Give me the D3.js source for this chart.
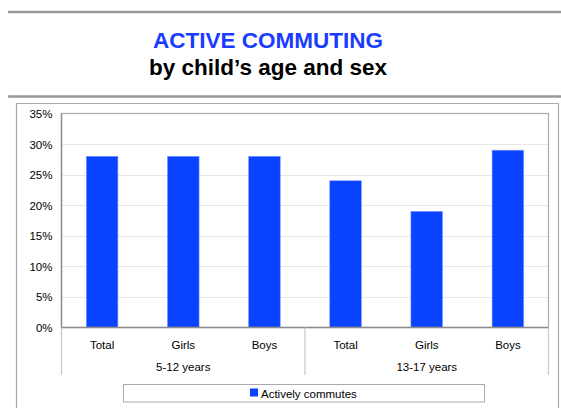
<!DOCTYPE html>
<html>
<head>
<meta charset="utf-8">
<script src="https://cdn.jsdelivr.net/npm/d3@7"></script>
<style>
  html, body { margin: 0; padding: 0; background: #fff; }
  svg { display: block; font-family: "Liberation Sans", Arial, Helvetica, sans-serif; }
</style>
</head>
<body>
<svg id="chart" width="561" height="408"></svg>
<script>
const categories = ["Total", "Girls", "Boys", "Total", "Girls", "Boys"];
const groups = ["5-12 years", "13-17 years"];
const values = [28, 28, 28, 24, 19, 29];
const yTicks = [0, 5, 10, 15, 20, 25, 30, 35];
const seriesName = "Actively commutes";
const titleText = "ACTIVE COMMUTING";
const subtitleText = "by child\u2019s age and sex";

const svg = d3.select("#chart");
const W = 561, H = 408;
const plot = { left: 61.5, right: 548.5, top: 113.5, bottom: 327.5 };
const barBlue = "#0a43ff";

// header rules
svg.append("line").attr("x1", 8).attr("x2", W).attr("y1", 12).attr("y2", 12)
  .attr("stroke", "#999").attr("stroke-width", 2.5);
svg.append("line").attr("x1", 8).attr("x2", W).attr("y1", 96.5).attr("y2", 96.5)
  .attr("stroke", "#999").attr("stroke-width", 2.5);

// titles
svg.append("text").attr("x", 268).attr("y", 48).attr("text-anchor", "middle")
  .attr("font-size", 22.5).attr("font-weight", "bold").attr("fill", "#1a3cff").text(titleText);
svg.append("text").attr("x", 268).attr("y", 75).attr("text-anchor", "middle")
  .attr("font-size", 22.5).attr("font-weight", "bold").attr("fill", "#000").text(subtitleText);

// outer frame
svg.append("path").attr("d", `M16.5,${H} V103.5 H558.5 V${H}`)
  .attr("fill", "none").attr("stroke", "#aaa").attr("stroke-width", 1.2);

const x = d3.scaleBand().domain(d3.range(categories.length))
  .range([plot.left, plot.right]).paddingInner(0.61).paddingOuter(0.305);
const y = d3.scaleLinear().domain([0, 35]).range([plot.bottom, plot.top]);

// gridlines
svg.append("g").selectAll("line").data(yTicks.filter(t => t > 0 && t < 35)).join("line")
  .attr("x1", plot.left).attr("x2", plot.right)
  .attr("y1", d => Math.round(y(d)) + 0.5).attr("y2", d => Math.round(y(d)) + 0.5)
  .attr("stroke", "#e6e6e6").attr("stroke-width", 1);

// bars
svg.append("g").selectAll("rect").data(values).join("rect")
  .attr("x", (d, i) => x(i)).attr("width", x.bandwidth())
  .attr("y", d => y(d)).attr("height", d => plot.bottom - y(d))
  .attr("fill", barBlue).attr("stroke", "#7f9cff").attr("stroke-width", 0.6);

// plot frame
svg.append("rect").attr("x", plot.left).attr("y", plot.top)
  .attr("width", plot.right - plot.left).attr("height", plot.bottom - plot.top)
  .attr("fill", "none").attr("stroke", "#aaa").attr("stroke-width", 1.2);
svg.append("path").attr("d", `M${plot.left},${plot.top} V${plot.bottom} H${plot.right}`)
  .attr("fill", "none").attr("stroke", "#8c8c8c").attr("stroke-width", 1.4);

// y axis
const yAxis = d3.axisLeft(y).tickValues(yTicks).tickFormat(d => d + "%").tickSize(0).tickPadding(9);
const ya = svg.append("g").attr("transform", `translate(${plot.left},0)`).call(yAxis);
ya.select(".domain").remove();
ya.selectAll("text").attr("font-size", 11.5).attr("fill", "#000")
  .attr("font-family", "'Liberation Sans', Arial, sans-serif").attr("dy", "0.35em");

// x axis category labels
const xAxis = d3.axisBottom(x).tickFormat(i => categories[i]).tickSize(0).tickPadding(13);
const xa = svg.append("g").attr("transform", `translate(0,${plot.bottom})`).call(xAxis);
xa.select(".domain").remove();
xa.selectAll("text").attr("font-size", 11.5).attr("fill", "#000")
  .attr("font-family", "'Liberation Sans', Arial, sans-serif");

// group dividers
const perGroup = categories.length / groups.length;
const groupEdges = d3.range(groups.length + 1).map(g =>
  g === 0 ? plot.left : g === groups.length ? plot.right : (x(g * perGroup - 1) + x.bandwidth() + x(g * perGroup)) / 2);
svg.append("g").selectAll("line").data(groupEdges).join("line")
  .attr("x1", d => d).attr("x2", d => d).attr("y1", plot.bottom).attr("y2", 375)
  .attr("stroke", "#c8c8c8").attr("stroke-width", 1.2);

// group labels
svg.append("g").selectAll("text").data(groups).join("text")
  .attr("x", (d, g) => (groupEdges[g] + groupEdges[g + 1]) / 2).attr("y", 371)
  .attr("text-anchor", "middle").attr("font-size", 11.5).attr("fill", "#000").text(d => d);

// legend
svg.append("rect").attr("x", 123.5).attr("y", 384.5).attr("width", 361).attr("height", 17.5)
  .attr("fill", "#fff").attr("stroke", "#aaa").attr("stroke-width", 1);
svg.append("rect").attr("x", 250).attr("y", 388.5).attr("width", 8).attr("height", 8)
  .attr("fill", barBlue);
svg.append("text").attr("x", 261).attr("y", 397.5).attr("font-size", 11.5).attr("fill", "#000").text(seriesName);
</script>
</body>
</html>
